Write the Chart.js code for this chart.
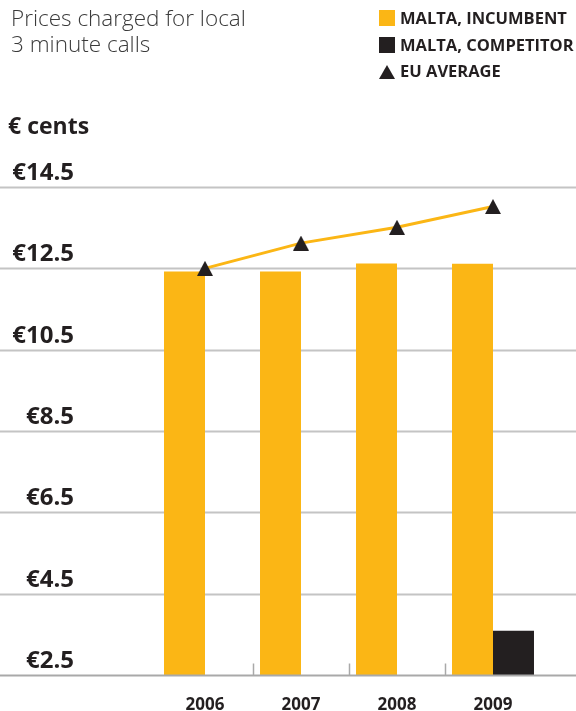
<!DOCTYPE html>
<html>
<head>
<meta charset="utf-8">
<script src="https://cdn.jsdelivr.net/npm/chart.js@4.4.1/dist/chart.umd.min.js"></script>
<style>
  html, body { margin: 0; padding: 0; background: #ffffff; }
  #wrap { position: relative; width: 576px; height: 711px; overflow: hidden; }
  #c { position: absolute; left: 0; top: 0; }
  .title { position: absolute; left: 11px; top: 5px; font-family: 'Open Sans', sans-serif; font-weight: 300;
           font-size: 22.5px; line-height: 26px; color: #3a3a3a; white-space: nowrap; }
  .unit { position: absolute; left: 8px; top: 110px; font-family: 'Open Sans', sans-serif; font-weight: 700;
          font-size: 23px; line-height: 30px; color: #231f20; }
  .legend { position: absolute; left: 379px; top: 6px; font-family: 'Open Sans', sans-serif; font-weight: 700;
            font-size: 16.5px; color: #231f20; }
  .row { position: relative; height: 26.7px; line-height: 24px; white-space: nowrap; }
  .sw { position: absolute; left: 0; top: 4px; width: 16px; height: 16px; }
  .tri { position: absolute; left: 0; top: 6px; width: 0; height: 0;
         border-left: 8px solid transparent; border-right: 8px solid transparent; border-bottom: 14px solid #231f20; }
  .lt { position: absolute; left: 21px; top: 0; }
</style>
</head>
<body>
<div id="wrap">
  <canvas id="c" width="576" height="711"></canvas>
  <div class="title">Prices charged for local<br>3 minute calls</div>
  <div class="legend">
    <div class="row"><span class="sw" style="background:#fbb615"></span><span class="lt">MALTA, INCUMBENT</span></div>
    <div class="row"><span class="sw" style="background:#231f20"></span><span class="lt">MALTA, COMPETITOR</span></div>
    <div class="row"><span class="tri"></span><span class="lt">EU AVERAGE</span></div>
  </div>
  <div class="unit">€ cents</div>
</div>
<script>
// ---- data ----
const years = ['2006', '2007', '2008', '2009'];
const incumbent = [12.42, 12.42, 12.62, 12.61];
const competitor = [null, null, null, 3.59];
const euAverage = [12.50, 13.12, 13.51, 14.02];
const yTicks = [2.5, 4.5, 6.5, 8.5, 10.5, 12.5, 14.5];

const ORANGE = '#fbb615';
const DARK = '#231f20';
const FONT = "'Open Sans', sans-serif";

// triangle marker (centred on its bounding box)
const triCanvas = document.createElement('canvas');
triCanvas.width = 16; triCanvas.height = 15;
(function () {
  const t = triCanvas.getContext('2d');
  t.fillStyle = DARK;
  t.beginPath();
  t.moveTo(8, 0); t.lineTo(16, 15); t.lineTo(0, 15); t.closePath();
  t.fill();
})();

const fullGrid = {
  id: 'fullGrid',
  beforeDatasetsDraw(chart) {
    const ctx = chart.ctx, y = chart.scales.y;
    ctx.save();
    yTicks.forEach((v, i) => {
      if (i === 0) return;
      const py = Math.round(y.getPixelForValue(v)) + 0.5;
      ctx.strokeStyle = '#c4c4c4';
      ctx.lineWidth = 2;
      ctx.beginPath(); ctx.moveTo(0, py); ctx.lineTo(chart.width, py); ctx.stroke();
    });
    ctx.restore();
  },
  afterDatasetsDraw(chart) {
    const ctx = chart.ctx, y = chart.scales.y, x = chart.scales.x;
    const by = Math.round(y.getPixelForValue(yTicks[0])) + 0.5;
    ctx.save();
    ctx.strokeStyle = '#a9a9a9';
    ctx.lineWidth = 2;
    ctx.beginPath(); ctx.moveTo(0, by); ctx.lineTo(chart.width, by); ctx.stroke();
    ctx.lineWidth = 1.5;
    for (let i = 0; i < years.length - 1; i++) {
      const px = Math.round((x.getPixelForValue(i) + x.getPixelForValue(i + 1)) / 2) + 0.5;
      ctx.beginPath(); ctx.moveTo(px, by - 12); ctx.lineTo(px, by); ctx.stroke();
    }
    ctx.restore();
  }
};

new Chart(document.getElementById('c'), {
  type: 'bar',
  data: {
    labels: years,
    datasets: [
      { type: 'line', label: 'EU AVERAGE', data: euAverage, order: 0,
        borderColor: ORANGE, borderWidth: 3, fill: false, tension: 0,
        pointStyle: triCanvas, pointRadius: 8, pointHoverRadius: 8 },
      { label: 'MALTA, INCUMBENT', data: incumbent, backgroundColor: ORANGE, order: 1,
        categoryPercentage: 0.854, barPercentage: 1.0, borderWidth: 0 },
      { label: 'MALTA, COMPETITOR', data: competitor, backgroundColor: DARK, order: 2,
        categoryPercentage: 0.854, barPercentage: 1.0, borderWidth: 0 }
    ]
  },
  options: {
    responsive: false,
    animation: false,
    layout: { padding: { top: 187, right: 35, left: 0, bottom: 0 } },
    plugins: { legend: { display: false }, title: { display: false }, tooltip: { enabled: false } },
    scales: {
      x: {
        grid: { display: false, drawTicks: false },
        border: { display: false },
        ticks: { color: DARK, font: { family: FONT, weight: 'bold', size: 17 }, padding: 20 },
        afterFit(s) { s.height = 36; s.paddingLeft = 0; s.paddingRight = 0; }
      },
      y: {
        min: yTicks[0], max: yTicks[yTicks.length - 1],
        afterBuildTicks(s) { s.ticks = yTicks.map(v => ({ value: v })); },
        grid: { display: false, drawTicks: false },
        border: { display: false },
        ticks: {
          color: DARK, font: { family: FONT, weight: 'bold', size: 24 },
          padding: 83, labelOffset: -14, crossAlign: 'near',
          callback: v => '€' + Number(v).toFixed(1)
        },
        afterFit(s) { s.width = 157; s.paddingTop = 0; s.paddingBottom = 0; }
      }
    }
  },
  plugins: [fullGrid]
});
</script>
</body>
</html>
